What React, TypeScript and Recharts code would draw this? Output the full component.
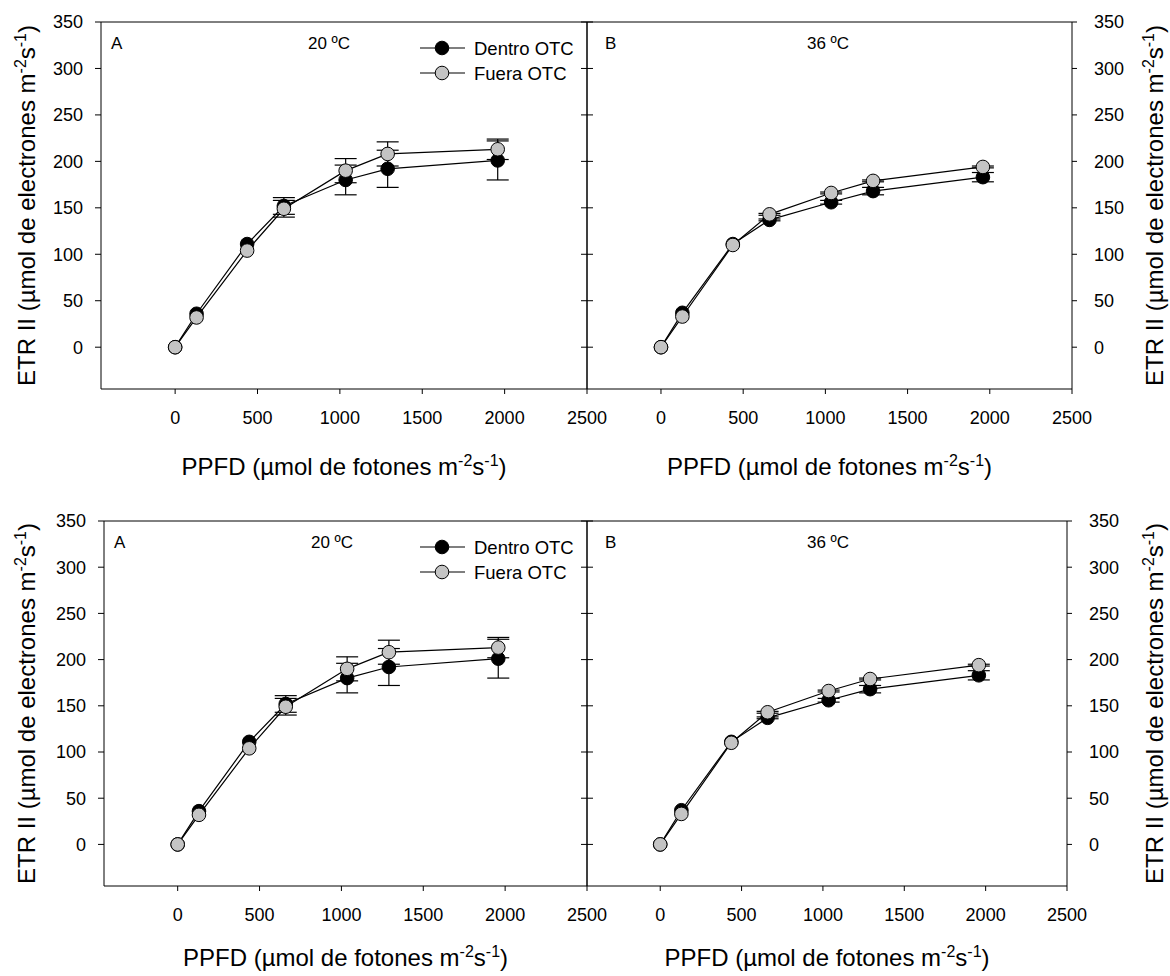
import React from 'react';
import { LineChart, Line, XAxis, YAxis, ErrorBar, ReferenceLine, Legend } from 'recharts';

const FONT = '"Liberation Sans", Arial, Helvetica, sans-serif';
const GRAY = '#c4c4c4';

// PPFD levels (µmol fotones m-2 s-1)
const ppfd = [0, 130, 437, 660, 1035, 1290, 1958];

// 20 ºC
const dentro20 = [0, 36, 111, 152, 180, 192, 201];
const dentro20Err = [0, 0, 0, 9, 16, 20, 21];
const fuera20 = [0, 32, 104, 149, 190, 208, 213];
const fuera20Err = [0, 0, 0, 9, 13, 13, 11];

// 36 ºC
const dentro36 = [0, 37, 111, 137, 156, 168, 183];
const dentro36Err = [0, 0, 0, 1, 2, 4, 5];
const fuera36 = [0, 33, 110, 143, 166, 179, 194];
const fuera36Err = [0, 0, 0, 1, 1, 1, 1];

const xTicks = [0, 500, 1000, 1500, 2000, 2500];
const yTicks = [0, 50, 100, 150, 200, 250, 300, 350];
const seriesNames = ['Dentro OTC', 'Fuera OTC'];
const panelLetters = ['A', 'B'];
const temps = ['20 ºC', '36 ºC'];

function buildRows(dentro: number[], dentroErr: number[], fuera: number[], fueraErr: number[]) {
  return ppfd.map((x, i) => ({
    ppfd: x,
    dentro: dentro[i],
    dentroErr: dentroErr[i],
    fuera: fuera[i],
    fueraErr: fueraErr[i],
  }));
}

const rows20 = buildRows(dentro20, dentro20Err, fuera20, fuera20Err);
const rows36 = buildRows(dentro36, dentro36Err, fuera36, fuera36Err);

// plot rectangles of the four panels
const PANELS = [
  { side: 'A', rows: rows20, left: 101, top: 22, w: 486, h: 367, legend: true },
  { side: 'B', rows: rows36, left: 587, top: 22, w: 485, h: 367, legend: false },
  { side: 'A', rows: rows20, left: 104, top: 521, w: 483, h: 365, legend: true },
  { side: 'B', rows: rows36, left: 587, top: 521, w: 480, h: 365, legend: false },
];

const tickStyle = { fill: '#000', fontSize: 18, fontFamily: FONT };
const R_DOT = 6.8;

const emptyTick = () => <g />;

const renderLegend = () => (
  <svg width={170} height={60} style={{ overflow: 'visible', display: 'block' }}>
    {seriesNames.map((name, i) => (
      <g key={name} transform={`translate(0, ${13 + i * 25})`}>
        <line x1={0} x2={45} y1={0} y2={0} stroke="#000" strokeWidth={1.2} />
        <circle cx={22} cy={0} r={R_DOT} fill={i === 0 ? '#000' : GRAY} stroke="#000" strokeWidth={1} />
        <text x={54} y={6.5} fontSize={18.5} fontFamily={FONT} fill="#000">{name}</text>
      </g>
    ))}
  </svg>
);

function Panel({ p }: { p: typeof PANELS[number] }) {
  const isA = p.side === 'A';
  const L = isA ? 80 : 15;
  const R = isA ? 30 : 80;
  const T = 15;
  const B = 45;
  const divLeft = p.left - L;
  const divTop = p.top - T;
  return (
    <div style={{ position: 'absolute', left: divLeft, top: divTop }}>
      <LineChart
        width={L + p.w + R}
        height={T + p.h + B}
        data={p.rows}
        margin={{ top: T, bottom: B - 30, left: isA ? L - 70 : L, right: isA ? R : R - 70 }}
      >
        <XAxis
          dataKey="ppfd"
          type="number"
          domain={[-450, 2500]}
          ticks={xTicks}
          interval={0}
          height={30}
          stroke="#000"
          tickSize={5}
          tickMargin={17}
          tick={tickStyle}
        />
        <YAxis
          yAxisId="main"
          orientation={isA ? 'left' : 'right'}
          width={70}
          type="number"
          domain={[-45, 350]}
          ticks={yTicks}
          interval={0}
          stroke="#000"
          tickSize={isA ? 6 : 5}
          tickMargin={isA ? 12 : 17}
          tick={tickStyle}
        />
        {/* divider axis: mirrored, ticks pointing into the panel, no labels */}
        <YAxis
          yAxisId="inner"
          orientation={isA ? 'right' : 'left'}
          mirror
          type="number"
          domain={[-45, 350]}
          ticks={yTicks}
          interval={0}
          stroke="#000"
          tickSize={6}
          tickMargin={0}
          tick={emptyTick}
        />
        <ReferenceLine yAxisId="main" y={350} stroke="#000" strokeWidth={1} />
        {/* invisible series so the divider axis gets its ticks */}
        <Line yAxisId="inner" dataKey="dentro" stroke="none" dot={false} activeDot={false} legendType="none" isAnimationActive={false} />
        {/* error bars first so the markers sit on top of them */}
        <Line yAxisId="main" dataKey="dentro" stroke="none" dot={false} activeDot={false} legendType="none" isAnimationActive={false}>
          <ErrorBar dataKey="dentroErr" direction="y" width={11} stroke="#000" strokeWidth={1.2} />
        </Line>
        <Line yAxisId="main" dataKey="fuera" stroke="none" dot={false} activeDot={false} legendType="none" isAnimationActive={false}>
          <ErrorBar dataKey="fueraErr" direction="y" width={11} stroke="#000" strokeWidth={1.2} />
        </Line>
        <Line
          yAxisId="main"
          dataKey="dentro"
          name={seriesNames[0]}
          stroke="#000"
          strokeWidth={1.2}
          dot={{ r: R_DOT, fill: '#000', stroke: '#000', strokeWidth: 1 }}
          isAnimationActive={false}
        />
        <Line
          yAxisId="main"
          dataKey="fuera"
          name={seriesNames[1]}
          stroke="#000"
          strokeWidth={1.2}
          dot={{ r: R_DOT, fill: GRAY, stroke: '#000', strokeWidth: 1 }}
          isAnimationActive={false}
        />
        {p.legend && (
          <Legend
            layout="horizontal"
            verticalAlign="middle"
            align="center"
            content={renderLegend}
            wrapperStyle={{
              position: 'absolute',
              left: p.left + p.w - 167 - divLeft,
              top: p.top + 13 - divTop,
              width: 170,
              height: 60,
            }}
          />
        )}
      </LineChart>
    </div>
  );
}

function TitleParts({ main, tail }: { main: string; tail: string }) {
  return (
    <>
      <tspan>{main}</tspan>
      <tspan dy={-9} fontSize={16}>-2</tspan>
      <tspan dy={9}>s</tspan>
      <tspan dy={-9} fontSize={16}>-1</tspan>
      <tspan dy={9}>{tail}</tspan>
    </>
  );
}

export default function App() {
  const rowsY = [
    { top: 22, h: 367, xTitle: 475 },
    { top: 521, h: 365, xTitle: 966 },
  ];
  return (
    <div style={{ position: 'absolute', left: 0, top: 0, width: 1170, height: 976, background: '#fff', overflow: 'hidden' }}>
      {PANELS.map((p, i) => (
        <Panel key={i} p={p} />
      ))}
      <svg
        width={1170}
        height={976}
        style={{ position: 'absolute', left: 0, top: 0, pointerEvents: 'none' }}
        fontFamily={FONT}
        fill="#000"
      >
        {PANELS.map((p, i) => {
          const isA = p.side === 'A';
          return (
            <g key={i}>
              <text x={p.left + (isA ? 10 : 18)} y={p.top + 27} fontSize={17}>
                {panelLetters[isA ? 0 : 1]}
              </text>
              <text x={p.left + (isA ? 228 : 241)} y={p.top + 27} fontSize={17} textAnchor="middle">
                {temps[isA ? 0 : 1]}
              </text>
              <text x={p.left + p.w / 2} y={rowsY[i < 2 ? 0 : 1].xTitle} fontSize={24} textAnchor="middle">
                <TitleParts main="PPFD (µmol de fotones m" tail=")" />
              </text>
            </g>
          );
        })}
        {rowsY.map((r, i) => (
          <g key={i}>
            <text
              transform={`translate(35, ${r.top + r.h / 2}) rotate(-90)`}
              fontSize={24}
              textAnchor="middle"
            >
              <TitleParts main="ETR II (µmol de electrones m" tail=")" />
            </text>
            <text
              transform={`translate(1163, ${r.top + r.h / 2}) rotate(-90)`}
              fontSize={24}
              textAnchor="middle"
            >
              <TitleParts main="ETR II (µmol de electrones m" tail=")" />
            </text>
          </g>
        ))}
      </svg>
    </div>
  );
}
